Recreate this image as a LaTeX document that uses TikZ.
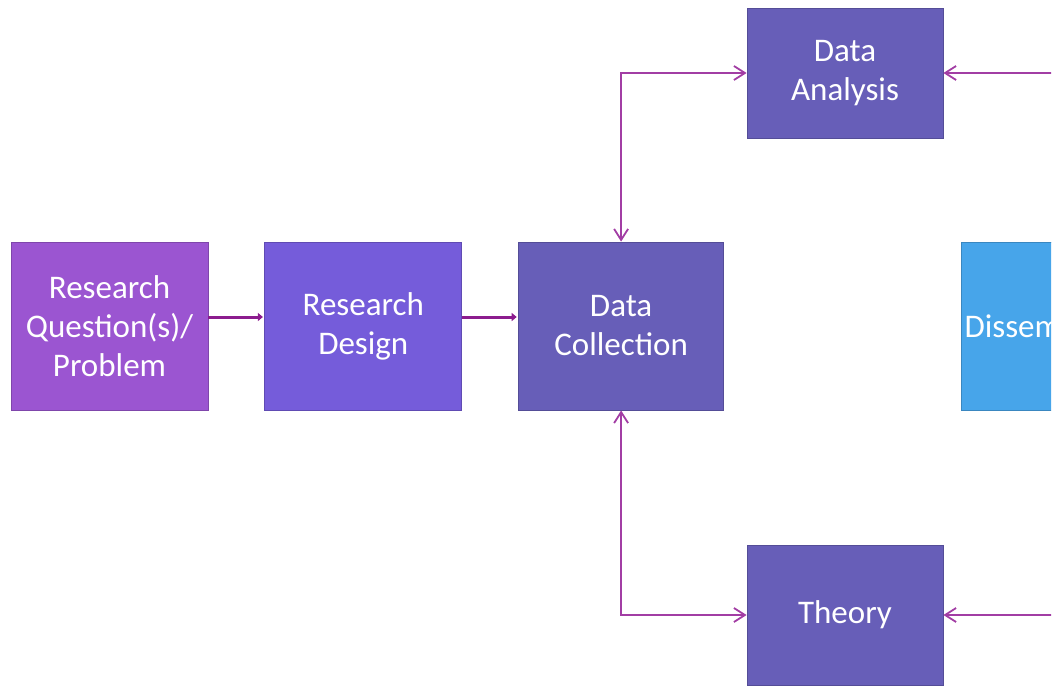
\documentclass[tikz,border=0pt]{standalone}
\usepackage{fontspec}
\setmainfont{Carlito}
\usepackage{tikz}
\usetikzlibrary{arrows.meta,positioning}
\definecolor{rqpurple}{HTML}{9B55D1}
\definecolor{designpurple}{HTML}{755CDA}
\definecolor{stagepurple}{HTML}{675EB8}
\definecolor{dissemblue}{HTML}{47A5EA}
\definecolor{flowmagenta}{HTML}{8C1C8E}
\definecolor{linkmagenta}{HTML}{A23DA4}
\tikzset{
  stage/.style={rectangle, draw=#1!82!black, fill=#1, text=white, line width=0.8pt,
    inner sep=0pt, align=center, font=\fontsize{33}{39}\selectfont},
  flow/.style={-{Triangle[length=5pt,width=8pt]}, line width=3pt, draw=flowmagenta, shorten >=1.5pt},
  link/.style={{Straight Barb[length=11pt,width=14pt]}-{Straight Barb[length=11pt,width=14pt]},
    line width=1.8pt, draw=linkmagenta}
}

\begin{document}
\begin{tikzpicture}[x=1pt,y=-1pt]
        % Page frame
        \useasboundingbox (0,0) rectangle (1062,688);
        \clip (0,0) rectangle (1051,688);
        % Main row of stages
        \node[stage=rqpurple, minimum width=197pt, minimum height=168pt] (rq) at (109.5,326) {Research\\Question(s)/\\Problem};
        \node[stage=designpurple, minimum width=197pt, minimum height=168pt, right=56pt of rq] (design) {Research\\Design};
        \node[stage=stagepurple, minimum width=205pt, minimum height=168pt, right=56pt of design] (collect) {Data\\Collection};
        % Stages above and below
        \node[stage=stagepurple, minimum width=196pt, minimum height=130pt] (analysis) at (845,73) {Data\\Analysis};
        \node[stage=stagepurple, minimum width=196pt, minimum height=140pt] (theory) at (845,615) {Theory};
        \node[stage=dissemblue, minimum width=197pt, minimum height=168pt] (dissem) at (1059.5,326) {Dissemination};
        % Forward arrows
        \draw[flow] ([yshift=9pt]rq.east) -- ([yshift=9pt]design.west);
        \draw[flow] ([yshift=9pt]design.east) -- ([yshift=9pt]collect.west);
        % Two-way links
        \draw[link] (collect.north) |- (analysis.west);
        \draw[link] (collect.south) |- (theory.west);
        \draw[link] (dissem.north) |- (analysis.east);
        \draw[link] (dissem.south) |- (theory.east);
      \end{tikzpicture}
\end{document}
